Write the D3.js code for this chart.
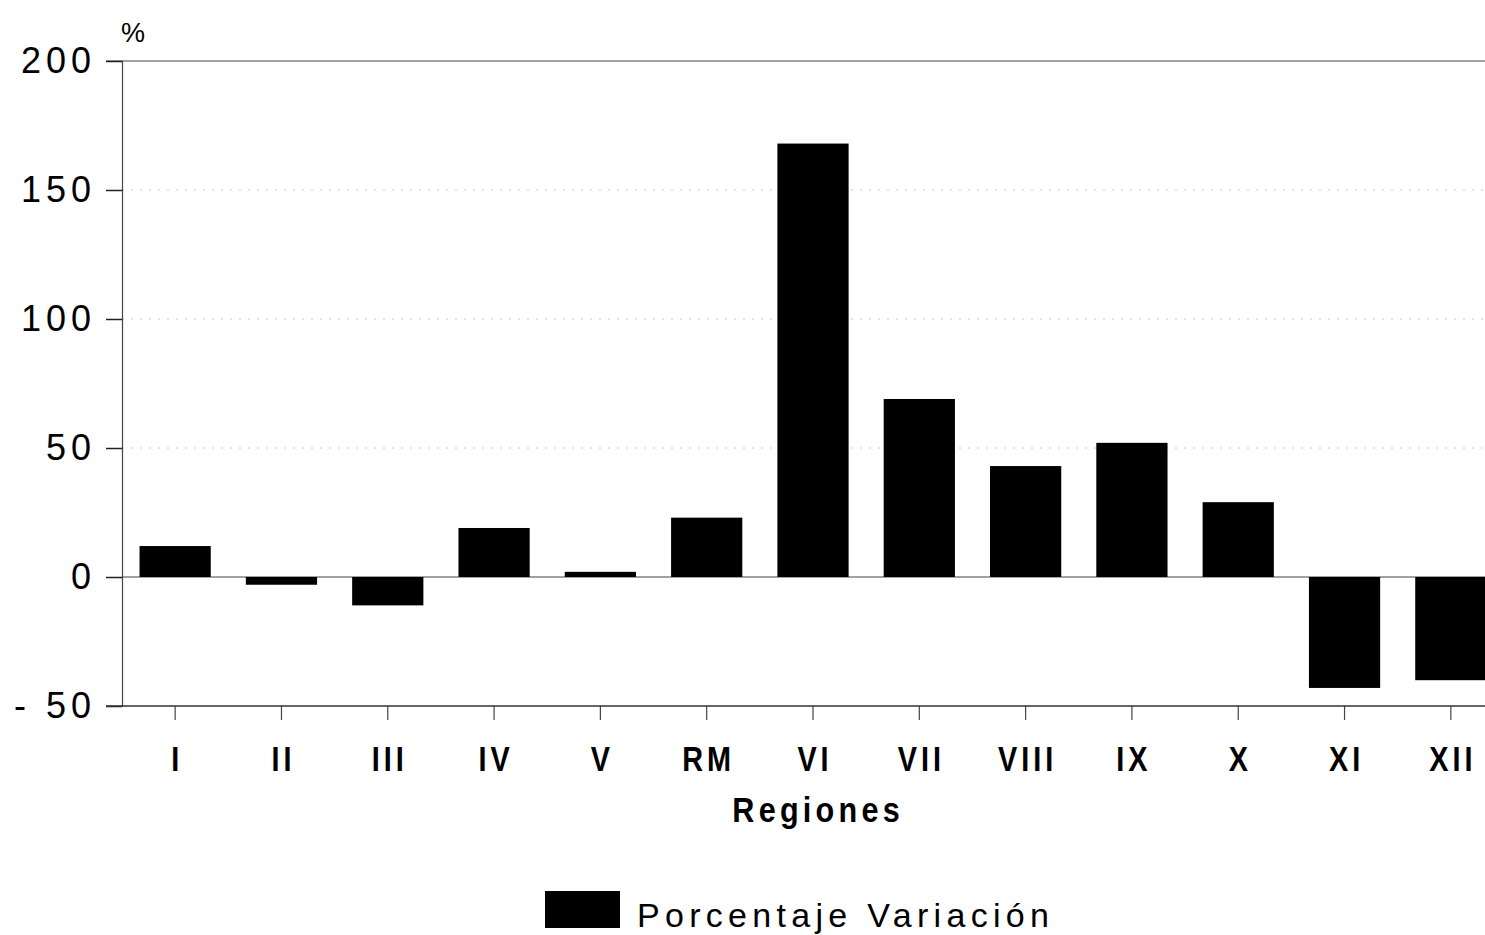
<!DOCTYPE html>
<html>
<head>
<meta charset="utf-8">
<script src="https://cdn.jsdelivr.net/npm/d3@7"></script>
<style>
  html, body { margin: 0; padding: 0; background: #fff; }
  svg { display: block; }
  text { font-family: "Liberation Sans", Arial, Helvetica, sans-serif; fill: #000; }
</style>
</head>
<body>
<svg id="chart" width="1485" height="935"></svg>
<script>
const regiones = ["I", "II", "III", "IV", "V", "RM", "VI", "VII", "VIII", "IX", "X", "XI", "XII"];
const porcentajeVariacion = [12, -3, -11, 19, 2, 23, 168, 69, 43, 52, 29, -43, -40];
const yTicks = [-50, 0, 50, 100, 150, 200];
const gridValues = [50, 100, 150];
const seriesName = "Porcentaje Variación";
const xTitle = "Regiones";
const yUnit = "%";

const svg = d3.select("#chart");
const mLeft = 122, mRight = 1504, mTop = 61, mBottom = 706;

const x = d3.scaleBand().domain(regiones).range([mLeft, mRight])
  .paddingInner(0.33).paddingOuter(0.165);
const y = d3.scaleLinear().domain([-50, 200]).range([mBottom, mTop]);

// faint dotted gridlines
svg.append("g").selectAll("line").data(gridValues).join("line")
  .attr("x1", mLeft).attr("x2", 1485)
  .attr("y1", d => y(d)).attr("y2", d => y(d))
  .attr("stroke", "#c8c8c8").attr("stroke-width", 1)
  .attr("stroke-dasharray", "2,7");

// zero line
svg.append("line")
  .attr("x1", mLeft).attr("x2", 1485)
  .attr("y1", y(0)).attr("y2", y(0))
  .attr("stroke", "#444").attr("stroke-width", 1.2);

// top frame line
svg.append("line")
  .attr("x1", mLeft - 16).attr("x2", 1485)
  .attr("y1", y(200)).attr("y2", y(200))
  .attr("stroke", "#444").attr("stroke-width", 1.2);

// bars
svg.append("g").selectAll("rect").data(regiones).join("rect")
  .attr("x", d => x(d))
  .attr("width", x.bandwidth())
  .attr("y", (d, i) => y(Math.max(0, porcentajeVariacion[i])))
  .attr("height", (d, i) => Math.abs(y(porcentajeVariacion[i]) - y(0)))
  .attr("fill", "#000");

// y axis
const yAxis = svg.append("g").attr("transform", `translate(${mLeft},0)`)
  .call(d3.axisLeft(y).tickValues(yTicks).tickSize(16).tickPadding(10)
    .tickFormat(d => d < 0 ? "- " + Math.abs(d) : String(d)));
yAxis.select(".domain").attr("stroke", "#444").attr("stroke-width", 1.2);
yAxis.selectAll(".tick line").attr("stroke", "#222").attr("stroke-width", 1.5);
yAxis.selectAll(".tick text")
  .attr("font-size", 36).attr("letter-spacing", "5px")
  .attr("font-family", "'Liberation Sans', Arial, sans-serif")
  .attr("fill", "#000");

// x axis
const xAxis = svg.append("g").attr("transform", `translate(0,${mBottom})`)
  .call(d3.axisBottom(x).tickSize(14).tickPadding(25));
xAxis.select(".domain").remove();
svg.append("line")
  .attr("x1", mLeft - 16).attr("x2", 1485)
  .attr("y1", mBottom).attr("y2", mBottom)
  .attr("stroke", "#333").attr("stroke-width", 1.5);
xAxis.selectAll(".tick line").attr("stroke", "#444").attr("stroke-width", 1.2);
xAxis.selectAll(".tick text")
  .attr("font-size", 36).attr("font-weight", "bold").attr("letter-spacing", "5px")
  .attr("dx", "2.5px")
  .attr("transform", "scale(0.8,1)")
  .attr("font-family", "'Liberation Sans', Arial, sans-serif")
  .attr("fill", "#000");

// x title
svg.append("text")
  .attr("transform", "translate(816,822) scale(0.85,1)")
  .attr("text-anchor", "middle")
  .attr("dx", "2.5px")
  .attr("font-size", 36).attr("font-weight", "bold").attr("letter-spacing", "5px")
  .text(xTitle);

// y unit
svg.append("text")
  .attr("x", 121).attr("y", 42)
  .attr("font-size", 27)
  .text(yUnit);

// legend
const lg = svg.append("g");
lg.append("rect").attr("x", 545).attr("y", 891).attr("width", 75).attr("height", 37).attr("fill", "#000");
lg.append("text").attr("x", 637).attr("y", 927)
  .attr("font-size", 34).attr("letter-spacing", "5.3px")
  .text(seriesName);
</script>
</body>
</html>
